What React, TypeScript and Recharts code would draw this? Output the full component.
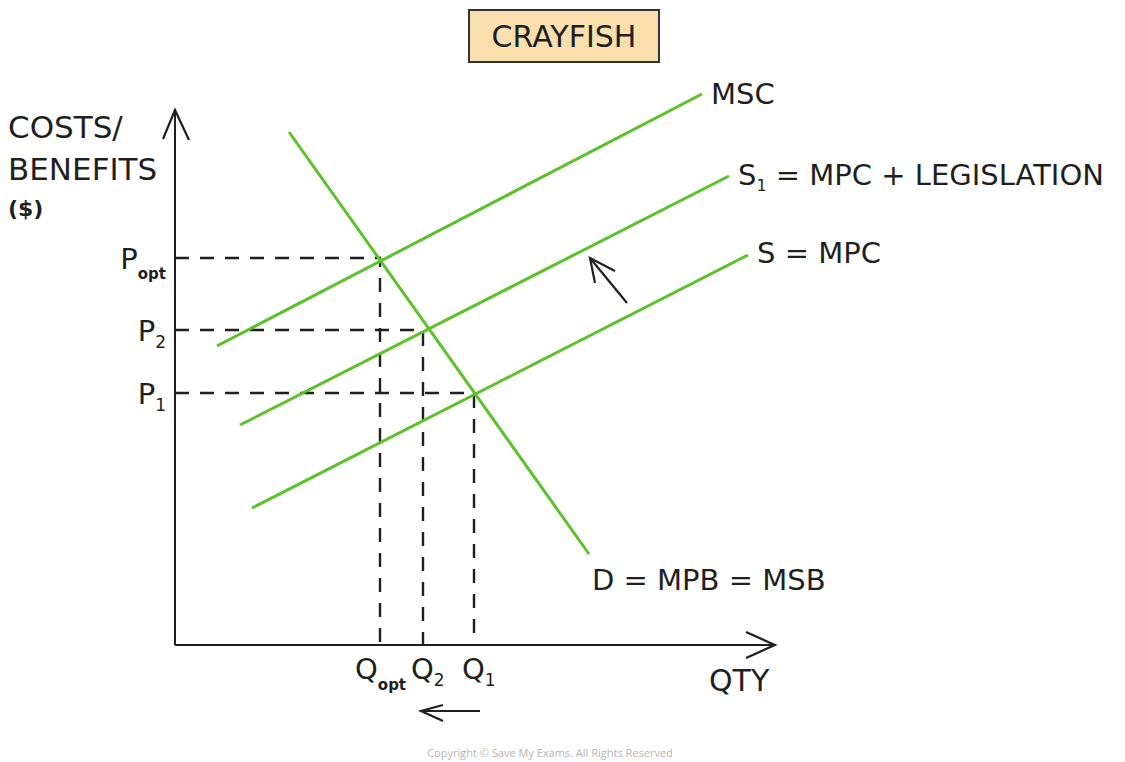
import React from "react";
import { LineChart, Line, XAxis, YAxis } from "recharts";

if (typeof document !== "undefined") document.body.style.margin = "0";

const FONT = "'DejaVu Sans', sans-serif";
const GREEN = "#5cc12b";
const INK = "#1f1f1f";

// equilibrium points
const qOpt = 4.1;
const q2 = 4.96;
const q1 = 5.98;
const pOpt = 7.74;
const p2 = 6.3;
const p1 = 5.04;

// curves (two end points each)
const mscCurve = [{ x: 0.84, y: 5.98 }, { x: 10.54, y: 11.02 }];
const s1Curve = [{ x: 1.3, y: 4.4 }, { x: 11.08, y: 9.38 }];
const sCurve = [{ x: 1.54, y: 2.74 }, { x: 11.46, y: 7.8 }];
const demandCurve = [{ x: 2.28, y: 10.26 }, { x: 8.28, y: 1.82 }];

// dashed guides: price axis -> equilibrium -> quantity axis
const optGuide = [{ x: 0, y: pOpt }, { x: qOpt, y: pOpt }, { x: qOpt, y: 0 }];
const q2Guide = [{ x: 0, y: p2 }, { x: q2, y: p2 }, { x: q2, y: 0 }];
const q1Guide = [{ x: 0, y: p1 }, { x: q1, y: p1 }, { x: q1, y: 0 }];

// axes, arrow heads and shift arrows
const yAxisLine = [{ x: 0, y: 0 }, { x: 0, y: 10.7 }];
const xAxisLine = [{ x: 0, y: 0 }, { x: 12, y: 0 }];
const yArrowHead = [{ x: -0.24, y: 10.12 }, { x: 0, y: 10.7 }, { x: 0.28, y: 10.1 }];
const xArrowHead = [{ x: 11.42, y: 0.26 }, { x: 12, y: 0 }, { x: 11.42, y: -0.26 }];
const shiftShaft = [{ x: 9.04, y: 6.84 }, { x: 8.3, y: 7.74 }];
const shiftHead = [{ x: 8.4, y: 7.24 }, { x: 8.3, y: 7.74 }, { x: 8.8, y: 7.48 }];
const qtyShaft = [{ x: 6.1, y: -1.32 }, { x: 4.92, y: -1.32 }];
const qtyHead = [{ x: 5.36, y: -1.2 }, { x: 4.92, y: -1.32 }, { x: 5.36, y: -1.52 }];

const Sub = ({ text, dy }: { text: string; dy: number }) => {
  const isOpt = text === "opt";
  return (
    <tspan fontSize={isOpt ? 15 : 17} fontWeight={isOpt ? "bold" : "normal"} dy={dy}>
      {text}
    </tspan>
  );
};

// P label at the axis end of a guide, Q label at its foot
const guideLabel = (sub: string) => (props: any) => {
  const isOpt = sub === "opt";
  if (props.index === 0) {
    return (
      <text x={props.x - 9} y={props.y + 11} textAnchor="end" fill={INK} fontFamily={FONT} fontSize={29}>
        <tspan>P</tspan>
        <Sub text={sub} dy={isOpt ? 10 : 7} />
      </text>
    );
  }
  if (props.index === 2) {
    return (
      <text x={props.x - (isOpt ? 25 : 12)} y={props.y + 34} fill={INK} fontFamily={FONT} fontSize={29}>
        <tspan>Q</tspan>
        <Sub text={sub} dy={isOpt ? 11 : 7} />
      </text>
    );
  }
  return <g />;
};

const endLabel = (at: number, dx: number, dy: number, main: string, sub?: string, rest?: string) => (props: any) => {
  if (props.index !== at) return <g />;
  return (
    <text x={props.x + dx} y={props.y + dy} fill={INK} fontFamily={FONT} fontSize={29}>
      <tspan>{main}</tspan>
      {sub ? <tspan fontSize={16} dy={6}>{sub}</tspan> : null}
      {rest ? <tspan dy={sub ? -6 : 0}>{rest}</tspan> : null}
    </text>
  );
};

const base = { dataKey: "y", dot: false, activeDot: false, isAnimationActive: false, type: "linear" as const };
const green = { ...base, stroke: GREEN, strokeWidth: 3 };
const dashed = { ...base, stroke: INK, strokeWidth: 2.4, strokeDasharray: "14 11" };
const ink = { ...base, stroke: INK, strokeWidth: 2.2 };

export default function App() {
  return (
    <div style={{ position: "relative", width: 1125, height: 762, background: "#fff" }}>
      <LineChart width={1125} height={762} margin={{ top: 85, right: 325, bottom: 37, left: 150 }}>
        <XAxis type="number" dataKey="x" domain={[-0.5, 12.5]} hide />
        <YAxis type="number" dataKey="y" domain={[-1.6, 11.2]} hide />
        <Line data={optGuide} {...dashed} label={guideLabel("opt")} />
        <Line data={q2Guide} {...dashed} label={guideLabel("2")} />
        <Line data={q1Guide} {...dashed} label={guideLabel("1")} />
        <Line data={yAxisLine} {...ink} strokeWidth={2} />
        <Line data={xAxisLine} {...ink} strokeWidth={2} />
        <Line data={yArrowHead} {...ink} />
        <Line data={xArrowHead} {...ink} />
        <Line data={mscCurve} {...green} label={endLabel(1, 9, 10, "MSC")} />
        <Line data={s1Curve} {...green} label={endLabel(1, 9, 9, "S", "1", " = MPC + LEGISLATION")} />
        <Line data={sCurve} {...green} label={endLabel(1, 9, 8, "S = MPC")} />
        <Line data={demandCurve} {...green} label={endLabel(1, 3, 36, "D = MPB = MSB")} />
        <Line data={shiftShaft} {...ink} />
        <Line data={shiftHead} {...ink} />
        <Line data={qtyShaft} {...ink} />
        <Line data={qtyHead} {...ink} />
      </LineChart>
      <svg width={1125} height={762} style={{ position: "absolute", left: 0, top: 0, pointerEvents: "none" }}>
        <rect x={469} y={10} width={190} height={52} fill="#fadfae" stroke="#333" strokeWidth={2} />
        <text x={564} y={47} textAnchor="middle" fill={INK} fontFamily={FONT} fontSize={30}>CRAYFISH</text>
        <text x={8} y={138} fill={INK} fontFamily={FONT} fontSize={31}>COSTS/</text>
        <text x={8} y={180} fill={INK} fontFamily={FONT} fontSize={31}>BENEFITS</text>
        <text x={8} y={216} fill={INK} fontFamily={FONT} fontSize={22} fontWeight="bold">($)</text>
        <text x={709} y={691} fill={INK} fontFamily={FONT} fontSize={30}>QTY</text>
        <text x={550} y={757} textAnchor="middle" fill="#b5b5b5" fontFamily="'Open Sans', sans-serif" fontSize={11}>
          Copyright © Save My Exams. All Rights Reserved
        </text>
      </svg>
    </div>
  );
}
